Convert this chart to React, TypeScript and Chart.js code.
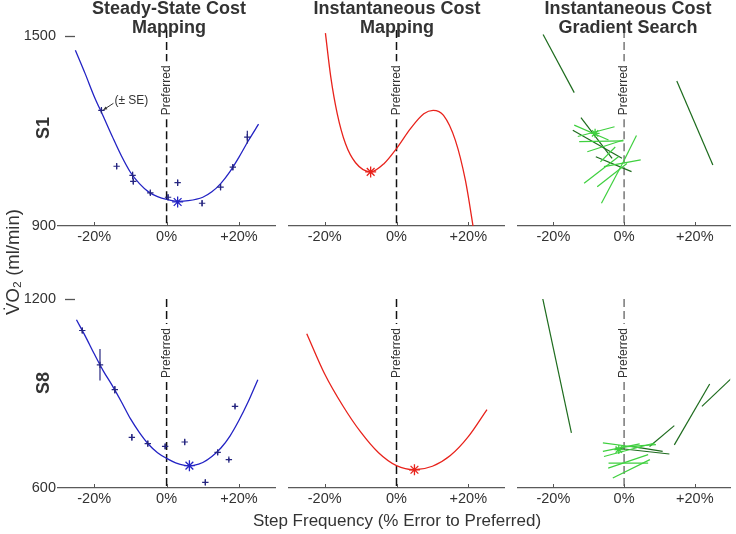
import React, { useEffect, useRef } from 'react';
import { Chart, registerables } from 'chart.js';
Chart.register(...registerables);

const FONT = '"Liberation Sans", Arial, Helvetica, sans-serif';

// ---------- axes ----------
const X_TICKS = [-20, 0, 20];
const X_MIN = -30;
const X_MAX = 30;
const S1_Y_TICKS = [900, 1500];
const S1_Y_RANGE = [900, 1520];
const S8_Y_TICKS = [600, 1200];
const S8_Y_RANGE = [600, 1200];

// ---------- S1 steady-state ----------
const S1_FIT_X = [-25.2, -22.5, -20, -17.5, -15, -12.5, -10, -7.5, -5, -2.5, 0, 3, 6, 10, 12.5, 15, 17.5, 20, 22.5, 25.4];
const S1_FIT_Y = [1456, 1382, 1310, 1247, 1183, 1122, 1070, 1034, 1008, 993, 984, 978, 980, 991, 1008, 1035, 1072, 1118, 1168, 1222];
const S1_PTS_X = [-18.0, -13.8, -9.4, -9.2, -4.5, 0.4, 3.05, 9.8, 14.9, 18.3, 22.3];
const S1_PTS_Y = [1266, 1089, 1060, 1041, 1005, 991, 1037, 972, 1023, 1086, 1181];
const S1_PTS_SE = [8, 9, 12, 8, 7, 8, 9, 9, 10, 9, 20];
const S1_MIN = [3.05, 976];

// ---------- S8 steady-state ----------
const S8_FIT_X = [-24.9, -22.5, -20, -17.5, -15, -12.5, -10, -7.5, -5, -2.5, 0, 2.5, 5, 6.3, 7.5, 10, 12.5, 15, 17.5, 20, 22.5, 25.2];
const S8_FIT_Y = [1134, 1083, 1026, 972, 925, 874, 820, 776, 739, 712, 694, 680, 672, 671, 672, 681, 700, 727, 765, 815, 873, 944];
const S8_PTS_X = [-23.3, -18.4, -14.3, -9.6, -5.2, -0.4, 5.0, 10.7, 14.1, 17.2, 18.9];
const S8_PTS_Y = [1100, 991, 912, 761, 741, 732, 746, 618, 713, 690, 859];
const S8_PTS_SE = [8, 50, 12, 10, 9, 8, 9, 9, 8, 5, 7];
const S8_MIN = [6.3, 671];

// ---------- instantaneous cost mapping ----------
const S1_INST_X = [-19.8, -18.3, -16.5, -14.2, -11.4, -7.2, -3.5, 0, 3.9, 7.6, 10.2, 13.1, 16.4, 19.2, 21.6];
const S1_INST_Y = [1510, 1371, 1255, 1160, 1100, 1071, 1097, 1145, 1208, 1255, 1266, 1250, 1171, 1044, 880];
const S1_INST_MIN = [-7.2, 1071];
const S8_INST_X = [-25, -20, -15, -10, -5, 0, 5, 10, 15, 20, 25.2];
const S8_INST_Y = [1090, 962, 862, 778, 712, 671, 658, 669, 703, 763, 849];
const S8_INST_MIN = [5.0, 658];

// ---------- gradient search segments [x1, y1, x2, y2] ----------
const S1_GRAD_DARK = [
  [-22.9, 1506, -14.1, 1322],
  [14.9, 1359, 25.1, 1093],
  [-12.2, 1243, -3.4, 1114],
  [-14.5, 1203, -0.6, 1114],
  [-8.0, 1119, 2.1, 1072],
];
const S1_GRAD_LIGHT = [
  [-14.1, 1219, -4.4, 1172],
  [-13.1, 1183, -2.7, 1214],
  [-12.7, 1167, -0.2, 1169],
  [-10.4, 1135, -0.2, 1172],
  [-5.7, 1088, 4.7, 1109],
  [-0.2, 1103, 3.5, 1186],
  [-11.3, 1035, -1.6, 1119],
  [-7.6, 1024, 0.8, 1098],
  [-6.4, 972, -0.2, 1103],
  [-6.7, 1103, -2.5, 1150],
];
const S1_GRAD_STAR = [-8.2, 1193];
const S8_GRAD_DARK = [
  [-23.0, 1201, -14.9, 775],
  [14.2, 737, 24.2, 930],
  [22.0, 859, 31.0, 955],
  [7.2, 732, 14.2, 798],
  [-2.5, 727, 12.8, 708],
  [2.1, 732, 10.9, 716],
];
const S8_GRAD_LIGHT = [
  [-6.0, 743, 4.9, 727],
  [-6.0, 716, 4.4, 740],
  [-5.7, 700, 8.6, 743],
  [-4.5, 663, 6.8, 706],
  [-4.4, 679, 6.8, 679],
  [-3.2, 632, 7.3, 690],
  [-1.0, 730, 9.0, 738],
];
const S8_GRAD_STAR = [-1.5, 722];

// ---------- colours ----------
const BLUE = '#2323c4';
const NAVY = '#262680';
const RED = '#e8231c';
const DARK_G = '#1d6b1d';
const LIGHT_G = '#3fd03f';

const zip = (xs: number[], ys: number[]) => xs.map((x, i) => ({ x, y: ys[i] }));
const fmtPct = (v: number) => (v === 0 ? '0%' : (v > 0 ? '+' : '') + v + '%');

const lineDs = (xs: number[], ys: number[], color: string) => ({
  data: zip(xs, ys), showLine: true, pointRadius: 0, borderColor: color, borderWidth: 1.3,
  cubicInterpolationMode: 'monotone',
});
const starDs = (p: number[], color: string, r = 5.5) => ({
  data: [{ x: p[0], y: p[1] }], pointStyle: 'star', pointRadius: r, borderColor: color,
  backgroundColor: color, borderWidth: 1.3, showLine: false,
});
const ptsDs = (xs: number[], ys: number[], se: number[]) => ({
  data: zip(xs, ys), errorBars: se, pointStyle: 'cross', pointRadius: 3.2, borderColor: NAVY,
  borderWidth: 1.2, showLine: false,
});
const segDs = (segs: number[][], color: string) => segs.map((s) => ({
  data: [{ x: s[0], y: s[1] }, { x: s[2], y: s[3] }], showLine: true, pointRadius: 0,
  borderColor: color, borderWidth: 1.2,
}));

const COLS = [
  { cx: 0, cw: 282, padL: 8, padR: 5 },
  { cx: 282, cw: 229, padL: 6, padR: 5 },
  { cx: 512, cw: 224, padL: 6, padR: 0 },
];
const ROWS = [
  { cy: 18, ch: 232, padT: 12, ticks: S1_Y_TICKS, range: S1_Y_RANGE },
  { cy: 287, ch: 225, padT: 12, ticks: S8_Y_TICKS, range: S8_Y_RANGE },
];

const PANELS = [
  { col: 0, row: 0, pref: '#111', se: true, datasets: [starDs(S1_MIN, BLUE), ptsDs(S1_PTS_X, S1_PTS_Y, S1_PTS_SE), lineDs(S1_FIT_X, S1_FIT_Y, BLUE)] },
  { col: 1, row: 0, pref: '#111', datasets: [starDs(S1_INST_MIN, RED), lineDs(S1_INST_X, S1_INST_Y, RED)] },
  { col: 2, row: 0, pref: '#777', datasets: [starDs(S1_GRAD_STAR, LIGHT_G, 4.5), ...segDs(S1_GRAD_LIGHT, LIGHT_G), ...segDs(S1_GRAD_DARK, DARK_G)] },
  { col: 0, row: 1, pref: '#111', datasets: [starDs(S8_MIN, BLUE), ptsDs(S8_PTS_X, S8_PTS_Y, S8_PTS_SE), lineDs(S8_FIT_X, S8_FIT_Y, BLUE)] },
  { col: 1, row: 1, pref: '#111', datasets: [starDs(S8_INST_MIN, RED), lineDs(S8_INST_X, S8_INST_Y, RED)] },
  { col: 2, row: 1, pref: '#777', datasets: [starDs(S8_GRAD_STAR, LIGHT_G, 4.5), ...segDs(S8_GRAD_LIGHT, LIGHT_G), ...segDs(S8_GRAD_DARK, DARK_G)] },
];

function decorPlugin(p: any, yTicks: number[]) {
  return {
    id: 'decor',
    beforeDatasetsDraw(chart: any) {
      const { ctx, chartArea: a, scales } = chart;
      const px = scales.x.getPixelForValue(0);
      const yc = scales.y.getPixelForValue(yTicks[1]) + 54;
      ctx.save();
      ctx.strokeStyle = p.pref;
      ctx.lineWidth = 1.5;
      ctx.setLineDash([8, 4]);
      ctx.beginPath(); ctx.moveTo(px, a.top); ctx.lineTo(px, yc - 29); ctx.stroke();
      ctx.beginPath(); ctx.moveTo(px, yc + 29); ctx.lineTo(px, a.bottom); ctx.stroke();
      ctx.setLineDash([]);
      ctx.translate(px, yc);
      ctx.rotate(-Math.PI / 2);
      ctx.font = `12px ${FONT}`;
      ctx.fillStyle = '#333';
      ctx.textAlign = 'center';
      ctx.textBaseline = 'middle';
      ctx.fillText('Preferred', 0, 0);
      ctx.restore();
    },
    afterDatasetsDraw(chart: any) {
      const { ctx, chartArea: a, scales } = chart;
      const xs = scales.x, ys = scales.y;
      ctx.save();
      // error bars
      chart.data.datasets.forEach((ds: any) => {
        if (!ds.errorBars) return;
        ctx.strokeStyle = ds.borderColor;
        ctx.lineWidth = 1.2;
        ds.data.forEach((d: any, i: number) => {
          const e = ds.errorBars[i];
          const x = xs.getPixelForValue(d.x);
          ctx.beginPath();
          ctx.moveTo(x, ys.getPixelForValue(d.y - e));
          ctx.lineTo(x, ys.getPixelForValue(d.y + e));
          ctx.stroke();
        });
      });
      // inward x ticks
      ctx.strokeStyle = '#555';
      ctx.lineWidth = 1;
      X_TICKS.forEach((v) => {
        const x = Math.round(xs.getPixelForValue(v)) + 0.5;
        ctx.beginPath(); ctx.moveTo(x, a.bottom); ctx.lineTo(x, a.bottom - 4); ctx.stroke();
      });
      // top y tick dash
      if (p.col === 0) {
        const y = Math.round(ys.getPixelForValue(yTicks[1])) + 0.5;
        ctx.lineWidth = 1.3;
        ctx.beginPath(); ctx.moveTo(a.left + 7, y); ctx.lineTo(a.left + 17, y); ctx.stroke();
      }
      // (± SE) annotation
      if (p.se) {
        const ptx = xs.getPixelForValue(S1_PTS_X[0]);
        const pty = ys.getPixelForValue(S1_PTS_Y[0]);
        ctx.strokeStyle = '#333';
        ctx.fillStyle = '#333';
        ctx.lineWidth = 1;
        const x1 = ptx + 12, y1 = pty - 7, x2 = ptx + 2, y2 = pty - 0.5;
        ctx.beginPath(); ctx.moveTo(x1, y1); ctx.lineTo(x2, y2); ctx.stroke();
        const ang = Math.atan2(y2 - y1, x2 - x1);
        ctx.beginPath();
        ctx.moveTo(x2, y2);
        ctx.lineTo(x2 - 4 * Math.cos(ang - 0.45), y2 - 4 * Math.sin(ang - 0.45));
        ctx.lineTo(x2 - 4 * Math.cos(ang + 0.45), y2 - 4 * Math.sin(ang + 0.45));
        ctx.closePath(); ctx.fill();
        ctx.font = `12px ${FONT}`;
        ctx.textAlign = 'left';
        ctx.textBaseline = 'middle';
        ctx.fillText('(\u00b1 SE)', ptx + 13, pty - 10);
      }
      ctx.restore();
    },
  };
}

function buildConfig(p: any): any {
  const c = COLS[p.col];
  const r = ROWS[p.row];
  const tickFont = { family: FONT, size: 14.5 };
  const showY = p.col === 0;
  return {
    type: 'scatter',
    data: { datasets: p.datasets },
    options: {
      animation: false,
      responsive: false,
      maintainAspectRatio: false,
      events: [],
      layout: { padding: { left: c.padL, right: c.padR, top: r.padT, bottom: 0 } },
      plugins: { legend: { display: false }, tooltip: { enabled: false } },
      scales: {
        x: {
          type: 'linear', min: X_MIN, max: X_MAX, position: 'bottom',
          afterBuildTicks: (s: any) => { s.ticks = X_TICKS.map((v) => ({ value: v })); },
          afterFit: (s: any) => { s.height = 24; },
          grid: { display: false, drawTicks: false },
          border: { display: true, color: '#5a5a5a', width: 1.3 },
          ticks: { padding: 2, color: '#333', font: tickFont, maxRotation: 0, autoSkip: false, callback: (v: any) => fmtPct(Number(v)) },
        },
        y: {
          type: 'linear', min: r.range[0], max: r.range[1], position: 'left', display: showY,
          afterBuildTicks: (s: any) => { s.ticks = r.ticks.map((v) => ({ value: v })); },
          afterFit: (s: any) => { s.width = showY ? 50 : 0; },
          grid: { display: false, drawTicks: false },
          border: { display: false },
          ticks: { padding: 2, color: '#333', font: tickFont, callback: (v: any) => String(v) },
        },
      },
    },
    plugins: [decorPlugin(p, r.ticks)],
  };
}

const TITLES = [
  ['Steady-State Cost', 'Mapping'],
  ['Instantaneous Cost', 'Mapping'],
  ['Instantaneous Cost', 'Gradient Search'],
];
const TITLE_CX = [169, 397, 628];
const ROW_LABELS = ['S1', 'S8'];
const ROW_LABEL_CY = [127.5, 383];

export default function App() {
  const refs = useRef<(HTMLCanvasElement | null)[]>([]);
  useEffect(() => {
    const charts = PANELS.map((p, i) => new Chart(refs.current[i] as HTMLCanvasElement, buildConfig(p)));
    return () => charts.forEach((ch) => ch.destroy());
  }, []);

  const rot = (cx: number, cy: number): React.CSSProperties => ({
    position: 'absolute', left: cx, top: cy, transform: 'translate(-50%, -50%) rotate(-90deg)', whiteSpace: 'nowrap',
  });

  return (
    <div style={{ position: 'absolute', left: 0, top: 0, width: 736, height: 534, overflow: 'hidden', background: '#fff', fontFamily: FONT, color: '#333' }}>
      {PANELS.map((p, i) => {
        const c = COLS[p.col];
        const r = ROWS[p.row];
        return (
          <canvas key={i} ref={(el) => { refs.current[i] = el; }} width={c.cw} height={r.ch}
            style={{ position: 'absolute', left: c.cx, top: r.cy, width: c.cw, height: r.ch }} />
        );
      })}
      {TITLES.map((t, i) => (
        <div key={'t' + i} style={{ position: 'absolute', left: TITLE_CX[i] - 110, width: 220, top: -1.5, textAlign: 'center', fontWeight: 'bold', fontSize: 18, lineHeight: '19.5px', color: '#333' }}>
          {t[0]}<br />{t[1]}
        </div>
      ))}
      {ROW_LABELS.map((s, i) => (
        <div key={'r' + i} style={{ ...rot(43, ROW_LABEL_CY[i]), fontWeight: 'bold', fontSize: 18, lineHeight: '20px' }}>{s}</div>
      ))}
      <div style={{ ...rot(13, 262), fontSize: 18.5, lineHeight: '20px' }}>{'V\u0307O\u2082 (ml/min)'}</div>
      <div style={{ position: 'absolute', left: 397 - 220, width: 440, top: 511, textAlign: 'center', fontSize: 17, lineHeight: '20px' }}>
        Step Frequency (% Error to Preferred)
      </div>
    </div>
  );
}
